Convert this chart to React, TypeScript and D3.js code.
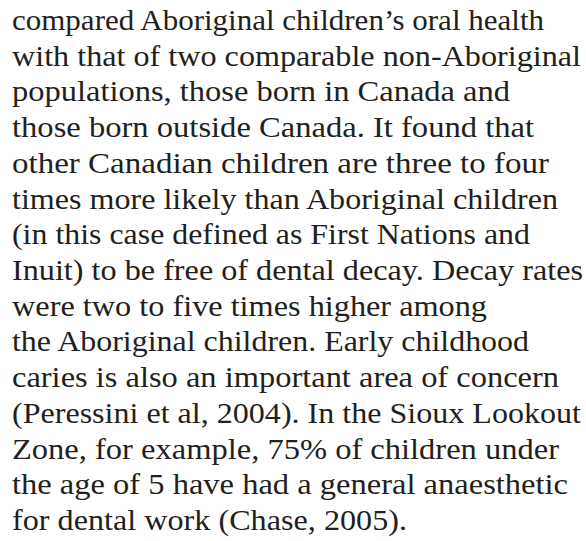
import React from "react";
import * as d3 from "d3";

const lines: string[] = [
  "compared Aboriginal children\u2019s oral health",
  "with that of two comparable non-Aboriginal",
  "populations, those born in Canada and",
  "those born outside Canada. It found that",
  "other Canadian children are three to four",
  "times more likely than Aboriginal children",
  "(in this case defined as First Nations and",
  "Inuit) to be free of dental decay. Decay rates",
  "were two to five times higher among",
  "the Aboriginal children. Early childhood",
  "caries is also an important area of concern",
  "(Peressini et al, 2004). In the Sioux Lookout",
  "Zone, for example, 75% of children under",
  "the age of 5 have had a general anaesthetic",
  "for dental work (Chase, 2005).",
];

const lineEnds: number[] = [544, 581, 510, 534, 549, 558, 530, 583, 487, 529, 559, 581, 559, 568, 407];

const W = 586;
const H = 541;
const LEFT = 12;

export default function App() {
  const y = d3.scaleLinear().domain([0, lines.length - 1]).range([30, 530]);
  return (
    <svg
      width={W}
      height={H}
      style={{ position: "absolute", left: 0, top: 0, background: "#fff" }}
    >
      <rect width={W} height={H} fill="#fff" />
      {lines.map((t, i) => (
        <text
          key={i}
          x={LEFT}
          y={y(i)}
          style={{ fontFamily: "Liberation Serif, Times New Roman, Tinos, serif" }}
          fontSize={30}
          fill="#231f20"
          textLength={lineEnds[i] - LEFT}
          lengthAdjust="spacingAndGlyphs"
        >
          {t}
        </text>
      ))}
    </svg>
  );
}
